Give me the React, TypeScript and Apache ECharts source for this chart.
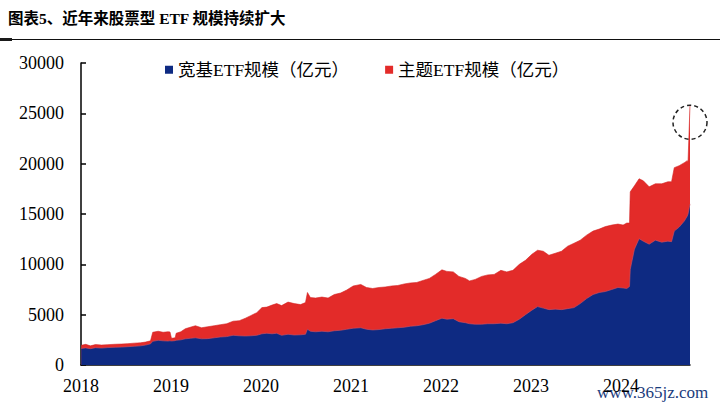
import React, { useEffect, useRef } from "react";
import * as echarts from "echarts";

const TITLE = "图表5、近年来股票型 ETF 规模持续扩大";
const SERIES_NAMES = ["宽基ETF规模（亿元）", "主题ETF规模（亿元）"];
const Y_TICKS = { min: 0, max: 30000, interval: 5000 };
const X_START_YEAR = 2018;

const dates = [
  "2018-01-02", "2018-01-20", "2018-02-08", "2018-03-01", "2018-03-25", "2018-04-20", "2018-05-20", "2018-06-15",
  "2018-07-10", "2018-08-05", "2018-08-30", "2018-09-20", "2018-10-10", "2018-10-19", "2018-11-10", "2018-11-30",
  "2018-12-20", "2018-12-28", "2019-01-03", "2019-01-18", "2019-01-22", "2019-02-10", "2019-02-28", "2019-03-20",
  "2019-04-10", "2019-05-05", "2019-05-30", "2019-06-25", "2019-07-20", "2019-08-15", "2019-09-10", "2019-10-05",
  "2019-10-30", "2019-11-20", "2019-12-15", "2020-01-05", "2020-01-25", "2020-02-15", "2020-03-05", "2020-03-25",
  "2020-04-20", "2020-05-15", "2020-06-10", "2020-06-30", "2020-07-08", "2020-07-20", "2020-08-10", "2020-09-05",
  "2020-09-30", "2020-10-25", "2020-11-20", "2020-12-15", "2021-01-10", "2021-02-10", "2021-03-05", "2021-03-30",
  "2021-04-25", "2021-05-20", "2021-06-15", "2021-07-10", "2021-08-05", "2021-08-30", "2021-09-25", "2021-10-20",
  "2021-11-15", "2021-12-10", "2022-01-05", "2022-01-25", "2022-02-20", "2022-03-15", "2022-04-10", "2022-04-27",
  "2022-05-20", "2022-06-15", "2022-07-10", "2022-08-05", "2022-09-01", "2022-09-25", "2022-10-20", "2022-11-15",
  "2022-12-10", "2023-01-05", "2023-01-28", "2023-02-20", "2023-03-15", "2023-04-10", "2023-05-05", "2023-05-30",
  "2023-06-25", "2023-07-20", "2023-08-15", "2023-09-10", "2023-10-05", "2023-10-30", "2023-11-25", "2023-12-20",
  "2024-01-10", "2024-01-25", "2024-02-05", "2024-02-08", "2024-02-25", "2024-03-15", "2024-04-01", "2024-04-25",
  "2024-05-20", "2024-06-15", "2024-07-10", "2024-07-25", "2024-08-05", "2024-08-25", "2024-09-15", "2024-09-27",
  "2024-09-30", "2024-10-08",
];

// 宽基ETF规模（亿元）
const broadBase = [
  1650, 1700, 1620, 1720, 1680, 1730, 1760, 1780,
  1820, 1860, 1900, 1980, 2100, 2350, 2450, 2400,
  2380, 2400, 2380, 2420, 2450, 2500, 2600, 2650,
  2700, 2600, 2620, 2700, 2780, 2820, 2950, 2900,
  2880, 2900, 2950, 3100, 3150, 3100, 3150, 2950,
  3050, 2980, 3000, 3050, 3550, 3350, 3300, 3350,
  3300, 3400, 3450, 3550, 3650, 3700, 3550, 3480,
  3520, 3600, 3650, 3700, 3750, 3850, 3900, 4000,
  4150, 4400, 4650, 4550, 4600, 4300, 4200, 4100,
  4050, 4050, 4100, 4100, 4150, 4100, 4200, 4550,
  5000, 5450, 5800, 5650, 5500, 5550, 5500, 5600,
  5700, 6100, 6600, 7000, 7200, 7300, 7500, 7700,
  7650, 7600, 7800, 9500, 11500, 12550, 12300, 12000,
  12400, 12200, 12300, 12250, 13300, 13700, 14300, 14800,
  15000, 16000,
];

// 主题ETF规模（亿元）
const thematic = [
  300, 350, 280, 310, 300, 290, 300, 300,
  300, 310, 300, 300, 300, 900, 900, 850,
  920, 880, 270, 280, 700, 800, 1000, 1100,
  1200, 1100, 1180, 1200, 1220, 1280, 1400, 1500,
  1770, 2000, 2250, 2600, 2600, 2850, 2950, 2950,
  3200, 3120, 3000, 3150, 3650, 3350, 3350, 3400,
  3350, 3600, 3700, 3900, 4200, 4300, 4150, 4120,
  4180, 4150, 4200, 4200, 4300, 4300, 4300, 4400,
  4450, 4600, 4800, 4750, 4650, 4500, 4400, 4250,
  4450, 4750, 4850, 4900, 5250, 5150, 5200, 5450,
  5400, 5550, 5600, 5650, 5400, 5550, 5800, 6200,
  6400, 6300, 6300, 6300, 6300, 6450, 6400, 6300,
  6250, 6500, 6300, 7700, 6300, 5950, 6000, 5700,
  5600, 5800, 5900, 5950, 6300, 6100, 5800, 5500,
  5200, 9800,
];

const COLORS = { broad: "#0e2a82", theme: "#e32b29" };
const SERIF = "'Liberation Serif', 'Times New Roman', 'Noto Sans CJK SC', serif";

function toYear(d: string): number {
  const [y, m, dd] = d.split("-").map(Number);
  const start = Date.UTC(y, 0, 1);
  const end = Date.UTC(y + 1, 0, 1);
  return y + (Date.UTC(y, m - 1, dd) - start) / (end - start);
}

export default function App() {
  const ref = useRef<HTMLDivElement>(null);

  useEffect(() => {
    if (!ref.current) return;
    const chart = echarts.init(ref.current, null, { renderer: "svg" });
    const xs = dates.map(toYear);
    const lastX = xs[xs.length - 1];
    // stacked top of the thematic layer = broad + thematic
    const totals = broadBase.map((b, i) => b + thematic[i]);

    const baseGraphics: any[] = [
      { id: "uline", type: "line", shape: { x1: 0, y1: 39.5, x2: 720, y2: 39.5 }, style: { stroke: "#111", lineWidth: 1.2 } },
      { id: "ublk", type: "rect", shape: { x: 0, y: 38, width: 12, height: 3 }, style: { fill: "#1a1a1a" } },
      {
        id: "wm", type: "text", left: 597, top: 384,
        style: { text: "www.365jz.com", fontSize: 17, fontFamily: SERIF, fill: "#1b3c7c" },
      },
    ];

    const option: any = {
      animation: false,
      backgroundColor: "#fff",
      title: {
        text: TITLE,
        left: 3,
        top: 6,
        textStyle: { fontSize: 15.5, fontWeight: "bold", color: "#000", fontFamily: SERIF },
      },
      legend: {
        left: 160,
        top: 56,
        itemWidth: 8,
        itemHeight: 8,
        itemGap: 36,
        icon: "rect",
        data: SERIES_NAMES,
        textStyle: { fontSize: 17.5, color: "#000", fontFamily: SERIF },
      },
      grid: { left: 81, right: 30, top: 63, bottom: 42, containLabel: false },
      xAxis: {
        type: "value",
        min: X_START_YEAR,
        max: lastX,
        interval: 1,
        splitLine: { show: false },
        axisTick: { show: false },
        axisLine: { show: true, lineStyle: { color: "#000", width: 1.5 } },
        axisLabel: {
          fontSize: 18,
          color: "#000",
          fontFamily: SERIF,
          margin: 12,
          showMaxLabel: false,
          formatter: (v: number) => (Math.abs(v - Math.round(v)) < 1e-6 ? String(Math.round(v)) : ""),
        },
      },
      yAxis: {
        type: "value",
        min: Y_TICKS.min,
        max: Y_TICKS.max,
        interval: Y_TICKS.interval,
        splitLine: { show: false },
        axisLine: { show: true, lineStyle: { color: "#000", width: 1.5 } },
        axisTick: { show: true, inside: true, length: 5, lineStyle: { color: "#000", width: 1.5 } },
        axisLabel: { fontSize: 18, color: "#000", fontFamily: SERIF, margin: 17, formatter: (v: number) => String(v) },
      },
      series: [
        {
          name: SERIES_NAMES[1],
          type: "line",
          symbol: "none",
          color: COLORS.theme,
          z: 2,
          lineStyle: { width: 0.6, color: "#d42323" },
          areaStyle: { color: COLORS.theme, opacity: 1 },
          data: xs.map((x, i) => [x, totals[i]]),
        },
        {
          name: SERIES_NAMES[0],
          type: "line",
          symbol: "none",
          color: COLORS.broad,
          z: 3,
          lineStyle: { width: 0.6, color: "#c9566a" },
          areaStyle: { color: COLORS.broad, opacity: 1 },
          data: xs.map((x, i) => [x, broadBase[i]]),
        },
      ],
      graphic: { elements: baseGraphics },
    };

    chart.setOption(option);

    const lastTotal = totals[totals.length - 1];
    const p = chart.convertToPixel({ xAxisIndex: 0, yAxisIndex: 0 }, [lastX, lastTotal]) as number[];
    if (p && isFinite(p[0]) && isFinite(p[1])) {
      chart.setOption({
        graphic: {
          elements: [
            ...baseGraphics,
            {
              id: "circ",
              type: "circle",
              shape: { cx: p[0], cy: p[1] + 17, r: 17 },
              style: { fill: "none", stroke: "#222", lineWidth: 1.5, lineDash: [4, 3] },
              z: 100,
            },
          ],
        },
      });
    }

    return () => chart.dispose();
  }, []);

  return (
    <div
      ref={ref}
      style={{ position: "absolute", left: 0, top: 0, width: 720, height: 407, background: "#fff" }}
    />
  );
}
